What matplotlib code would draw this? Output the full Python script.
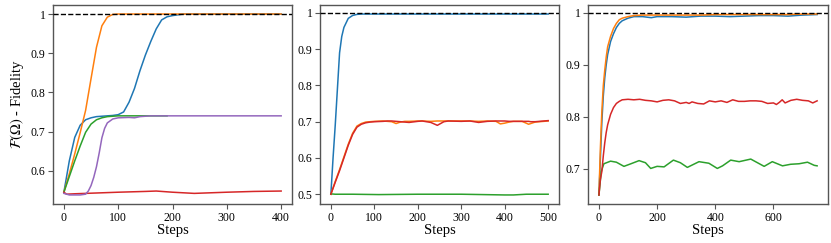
import matplotlib
matplotlib.use('Agg')
import matplotlib.pyplot as plt
from matplotlib.ticker import FuncFormatter

plt.rcParams['font.family'] = ['Liberation Serif', 'DejaVu Serif']
plt.rcParams['mathtext.fontset'] = 'stix'

# ---- panel 1 (400 steps) ----
p1_steps = [0, 10, 20, 30, 40, 50, 60, 70, 80, 90, 100, 110, 120, 130, 140, 150, 160, 170, 180, 190,
            200, 210, 220, 240, 260, 280, 300, 320, 340, 360, 380, 400]
p1_blue = [0.545, 0.625, 0.685, 0.716, 0.730, 0.735, 0.738, 0.739, 0.740, 0.741, 0.743, 0.750, 0.775, 0.810,
           0.855, 0.895, 0.930, 0.962, 0.985, 0.993, 0.996, 0.998, 1.0, 1.0, 1.0, 1.0, 1.0, 1.0, 1.0, 1.0, 1.0, 1.0]
p1_orange = [0.545, 0.592, 0.643, 0.697, 0.754, 0.835, 0.915, 0.970, 0.992, 0.999, 1.0, 1.0, 1.0, 1.0,
             1.0, 1.0, 1.0, 1.0, 1.0, 1.0, 1.0, 1.0, 1.0, 1.0, 1.0, 1.0, 1.0, 1.0, 1.0, 1.0, 1.0, 1.0]
p1_green_steps = [0, 10, 20, 30, 40, 50, 60, 70, 80, 90, 100, 120, 140, 160, 190]
p1_green = [0.545, 0.585, 0.625, 0.663, 0.698, 0.719, 0.730, 0.735, 0.738, 0.739, 0.740, 0.740, 0.740, 0.740, 0.740]
p1_red_steps = [0, 5, 20, 60, 100, 150, 170, 200, 240, 260, 300, 350, 400]
p1_red = [0.545, 0.540, 0.541, 0.543, 0.545, 0.547, 0.548, 0.545, 0.542, 0.543, 0.545, 0.547, 0.548]
p1_purple_steps = [0, 10, 20, 30, 40, 45, 50, 55, 60, 65, 70, 75, 80, 90, 100, 120, 130, 140, 150, 160,
                   200, 250, 300, 350, 400]
p1_purple = [0.542, 0.538, 0.538, 0.538, 0.540, 0.548, 0.562, 0.583, 0.610, 0.645, 0.684, 0.708, 0.722, 0.732,
             0.735, 0.736, 0.735, 0.738, 0.739, 0.740, 0.740, 0.740, 0.740, 0.740, 0.740]

# ---- panel 2 (500 steps) ----
p2_blue_steps = [0, 5, 10, 15, 20, 25, 30, 40, 50, 60, 70, 100, 200, 300, 400, 500]
p2_blue = [0.5, 0.6, 0.69, 0.79, 0.89, 0.935, 0.96, 0.985, 0.993, 0.996, 0.997, 0.997, 0.997, 0.997, 0.997, 0.997]
p2_steps = [0, 10, 20, 30, 40, 50, 60, 70, 80, 90, 100, 120, 130, 140, 150, 160, 170, 180, 200, 210, 230,
            245, 260, 270, 300, 320, 340, 360, 380, 390, 400, 410, 420, 440, 455, 460, 470, 480, 500]
p2_orange = [0.5, 0.535, 0.568, 0.603, 0.638, 0.668, 0.688, 0.695, 0.699, 0.700, 0.701, 0.702, 0.701,
             0.700, 0.695, 0.699, 0.701, 0.701, 0.702, 0.702, 0.701, 0.702, 0.702, 0.702, 0.702, 0.702,
             0.701, 0.702, 0.701, 0.694, 0.696, 0.699, 0.701, 0.701, 0.693, 0.695, 0.699, 0.700, 0.702]
p2_red = [0.5, 0.533, 0.565, 0.600, 0.635, 0.665, 0.685, 0.693, 0.697, 0.699, 0.700, 0.701, 0.702,
          0.702, 0.701, 0.700, 0.699, 0.698, 0.701, 0.702, 0.698, 0.690, 0.700, 0.702, 0.701, 0.702,
          0.698, 0.701, 0.702, 0.702, 0.702, 0.701, 0.701, 0.701, 0.701, 0.700, 0.700, 0.701, 0.703]
p2_green_steps = [0, 10, 50, 110, 200, 300, 350, 400, 420, 450, 500]
p2_green = [0.501, 0.500, 0.500, 0.499, 0.500, 0.500, 0.499, 0.498, 0.498, 0.500, 0.500]

# ---- panel 3 (750 steps) ----
p3_fast_steps = [0, 5, 10, 15, 20, 25, 30, 40, 50, 60, 70, 80, 100, 120, 150, 180, 200, 250, 300, 350,
                 400, 450, 500, 550, 600, 650, 700, 750]
p3_blue = [0.65, 0.72, 0.79, 0.84, 0.875, 0.90, 0.92, 0.945, 0.96, 0.972, 0.980, 0.985, 0.990, 0.993,
           0.993, 0.991, 0.993, 0.993, 0.992, 0.994, 0.994, 0.993, 0.994, 0.995, 0.995, 0.994, 0.996, 0.997]
p3_orange = [0.65, 0.74, 0.81, 0.86, 0.89, 0.915, 0.935, 0.955, 0.970, 0.980, 0.987, 0.990, 0.993, 0.995,
             0.996, 0.996, 0.996, 0.996, 0.996, 0.996, 0.997, 0.997, 0.997, 0.997, 0.997, 0.997, 0.998, 0.998]
p3_green_steps = [0, 8, 17, 40, 60, 86, 110, 138, 160, 178, 200, 224, 256, 280, 304, 344, 378, 407, 425,
                  453, 482, 522, 545, 568, 596, 631, 659, 688, 717, 740, 750]
p3_green = [0.65, 0.695, 0.710, 0.715, 0.713, 0.705, 0.710, 0.716, 0.712, 0.701, 0.705, 0.704, 0.717,
            0.712, 0.703, 0.714, 0.711, 0.701, 0.706, 0.717, 0.714, 0.719, 0.712, 0.705, 0.714, 0.706,
            0.709, 0.710, 0.713, 0.707, 0.706]
p3_red_steps = [0, 5, 10, 15, 20, 25, 30, 40, 50, 60, 70, 80, 100, 120, 140, 160, 180, 200, 220, 240, 260,
                280, 300, 310, 320, 340, 360, 380, 400, 420, 440, 460, 480, 500, 520, 540, 560, 580, 600,
                610, 620, 630, 640, 660, 680, 700, 720, 735, 750]
p3_red = [0.65, 0.68, 0.695, 0.725, 0.75, 0.77, 0.785, 0.805, 0.818, 0.826, 0.830, 0.833, 0.834, 0.833,
          0.834, 0.832, 0.831, 0.829, 0.832, 0.833, 0.831, 0.826, 0.828, 0.826, 0.829, 0.826, 0.825,
          0.831, 0.829, 0.831, 0.828, 0.833, 0.830, 0.830, 0.831, 0.831, 0.830, 0.826, 0.827, 0.824,
          0.828, 0.833, 0.827, 0.832, 0.834, 0.832, 0.831, 0.827, 0.831]

fig = plt.figure(figsize=(8.31, 2.43), dpi=100)
ax1 = fig.add_axes([0.0638, 0.1605, 0.2876, 0.819])
ax2 = fig.add_axes([0.3851, 0.1605, 0.2876, 0.819])
ax3 = fig.add_axes([0.7076, 0.1605, 0.2888, 0.819])

lw = 1.1
ax1.plot(p1_steps, p1_blue, color='C0', lw=lw)
ax1.plot(p1_steps, p1_orange, color='C1', lw=lw)
ax1.plot(p1_green_steps, p1_green, color='C2', lw=lw)
ax1.plot(p1_red_steps, p1_red, color='C3', lw=lw)
ax1.plot(p1_purple_steps, p1_purple, color='C4', lw=lw)

ax2.plot(p2_blue_steps, p2_blue, color='C0', lw=lw)
ax2.plot(p2_steps, p2_orange, color='C1', lw=lw)
ax2.plot(p2_green_steps, p2_green, color='C2', lw=lw)
ax2.plot(p2_steps, p2_red, color='C3', lw=lw)

ax3.plot(p3_fast_steps, p3_blue, color='C0', lw=lw)
ax3.plot(p3_fast_steps, p3_orange, color='C1', lw=lw)
ax3.plot(p3_green_steps, p3_green, color='C2', lw=lw)
ax3.plot(p3_red_steps, p3_red, color='C3', lw=lw)

fmt = FuncFormatter(lambda v, pos: '%g' % round(v, 3))
for ax in (ax1, ax2, ax3):
    ax.axhline(1.0, color='black', ls='--', lw=1.0, zorder=5)
    ax.yaxis.set_major_formatter(fmt)
    ax.tick_params(labelsize=8.5, length=3.5, width=0.8, color='#555555', pad=2)
    for s in ax.spines.values():
        s.set_color('#555555')
        s.set_linewidth(1.0)
    ax.set_xlabel('Steps', fontsize=10.5, labelpad=0)

ax1.set_yticks([0.6, 0.7, 0.8, 0.9, 1.0])
ax1.set_xticks([0, 100, 200, 300, 400])
ax2.set_yticks([0.5, 0.6, 0.7, 0.8, 0.9, 1.0])
ax2.set_xticks([0, 100, 200, 300, 400, 500])
ax3.set_yticks([0.7, 0.8, 0.9, 1.0])
ax3.set_xticks([0, 200, 400, 600])
ax1.set_ylabel(r'$\mathcal{F}(\Omega)$ - Fidelity', fontsize=10.5, labelpad=3)

fig.savefig('out.png', dpi=100)
